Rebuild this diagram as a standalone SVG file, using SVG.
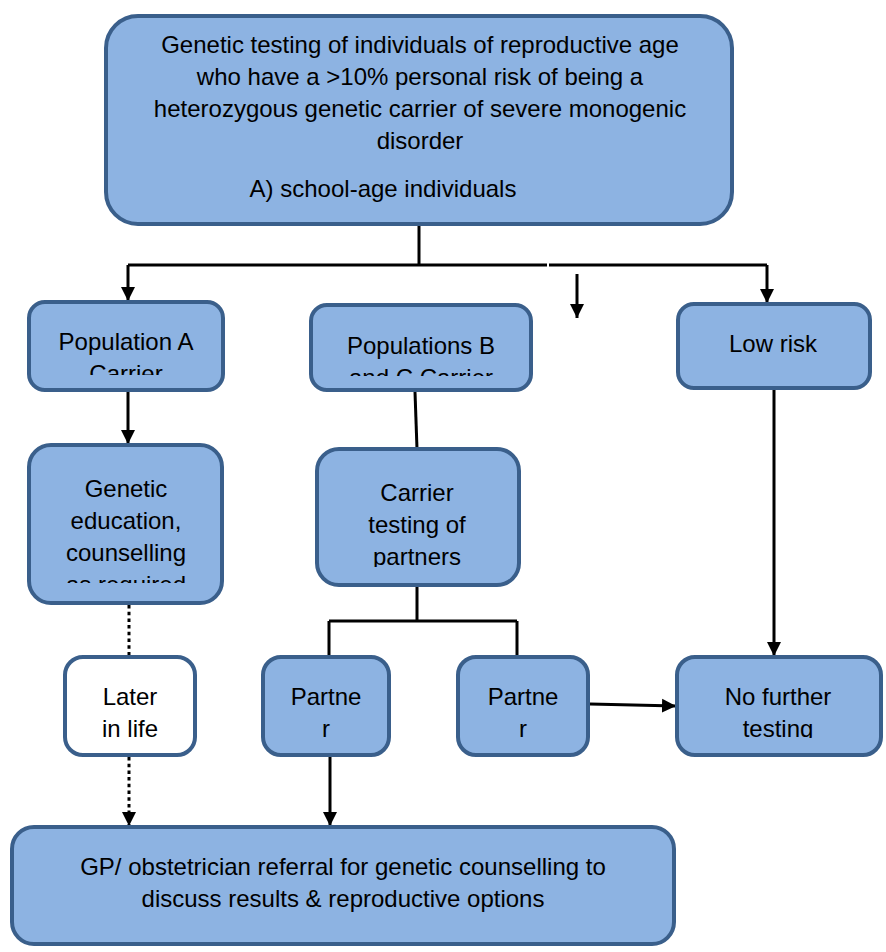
<svg xmlns="http://www.w3.org/2000/svg" width="886" height="952" viewBox="0 0 886 952">
<style>
.box{fill:#8DB3E2;stroke:#3A5F8B;stroke-width:4}
.wbox{fill:#FFFFFF;stroke:#3A5F8B;stroke-width:4}
text{font-family:"Liberation Sans",Arial,sans-serif;font-size:24px;fill:#000;text-anchor:middle}
.c{fill:none;stroke:#000;stroke-width:3}
.a{marker-end:url(#arr)}
.d{stroke-dasharray:3.5 3.2}
</style>
<defs>
<marker id="arr" viewBox="0 0 10 10" markerWidth="14" markerHeight="15" markerUnits="userSpaceOnUse" refX="10" refY="5" orient="auto">
<path d="M0,0 L10,5 L0,10 z" fill="#000"/>
</marker>
<clipPath id="clipA"><rect x="0" y="300" width="886" height="75"/></clipPath>
<clipPath id="clipB"><rect x="0" y="300" width="886" height="76"/></clipPath>
<clipPath id="clipE"><rect x="0" y="440" width="886" height="143"/></clipPath>
<clipPath id="clipC"><rect x="0" y="440" width="886" height="127"/></clipPath>
<clipPath id="clipN"><rect x="0" y="650" width="886" height="88"/></clipPath>
</defs>
<g id="connectors">
<path class="c" d="M419,226 V265"/>
<path class="c" d="M128,265 H547 M549,265 H767"/>
<path class="c a" d="M128,265 V301"/>
<path class="c a" d="M767,265 V303"/>
<path class="c a" d="M577,274 V318"/>
<path class="c a" d="M128,392 V444"/>
<path class="c" d="M415,392 L417,449"/>
<path class="c a" d="M774,390 V656"/>
<path class="c" d="M417,587 V621 M329,621 H517 M329,621 V657 M517,621 V657"/>
<path class="c d" d="M129,605 V655"/>
<path class="c d a" d="M129,757 V826"/>
<path class="c a" d="M330,757 V826"/>
<path class="c a" d="M590,704 L676,706"/>
</g>
<g id="top">
<rect class="box" x="106" y="16" width="626" height="208" rx="32"/>
<text x="420" y="53">Genetic testing of individuals of reproductive age</text>
<text x="420" y="85">who have a &gt;10% personal risk of being a</text>
<text x="420" y="117">heterozygous genetic carrier of severe monogenic</text>
<text x="420" y="149">disorder</text>
<text x="383" y="197">A) school-age individuals</text>
</g>
<g id="popA">
<rect class="box" x="29" y="302" width="194" height="88" rx="16"/>
<g clip-path="url(#clipA)">
<text x="126" y="350">Population A</text>
<text x="126" y="382">Carrier</text>
</g>
</g>
<g id="popBC">
<rect class="box" x="311" y="305" width="220" height="85" rx="16"/>
<g clip-path="url(#clipB)">
<text x="421" y="354">Populations B</text>
<text x="421" y="386">and C Carrier</text>
</g>
</g>
<g id="lowrisk">
<rect class="box" x="678" y="304" width="192" height="84" rx="16"/>
<text x="773" y="352">Low risk</text>
</g>
<g id="education">
<rect class="box" x="29" y="445" width="193" height="158" rx="22"/>
<g clip-path="url(#clipE)">
<text x="126" y="497">Genetic</text>
<text x="126" y="529">education,</text>
<text x="126" y="561">counselling</text>
<text x="126" y="593">as required</text>
</g>
</g>
<g id="carriertesting">
<rect class="box" x="317" y="449" width="202" height="136" rx="22"/>
<g clip-path="url(#clipC)">
<text x="417" y="501">Carrier</text>
<text x="417" y="533">testing of</text>
<text x="417" y="565">partners</text>
</g>
</g>
<g id="later">
<rect class="wbox" x="65" y="657" width="130" height="98" rx="18"/>
<text x="130" y="705">Later</text>
<text x="130" y="737">in life</text>
</g>
<g id="partner1">
<rect class="box" x="263" y="657" width="126" height="98" rx="18"/>
<text x="326" y="705">Partne</text>
<text x="326" y="737">r</text>
</g>
<g id="partner2">
<rect class="box" x="458" y="657" width="130" height="98" rx="18"/>
<text x="523" y="705">Partne</text>
<text x="523" y="737">r</text>
</g>
<g id="nofurther">
<rect class="box" x="677" y="657" width="204" height="98" rx="18"/>
<g clip-path="url(#clipN)">
<text x="778" y="705">No further</text>
<text x="778" y="737">testing</text>
</g>
</g>
<g id="referral">
<rect class="box" x="12" y="827" width="662" height="117" rx="22"/>
<text x="343" y="875">GP/ obstetrician referral for genetic counselling to</text>
<text x="343" y="907">discuss results &amp; reproductive options</text>
</g>
</svg>
